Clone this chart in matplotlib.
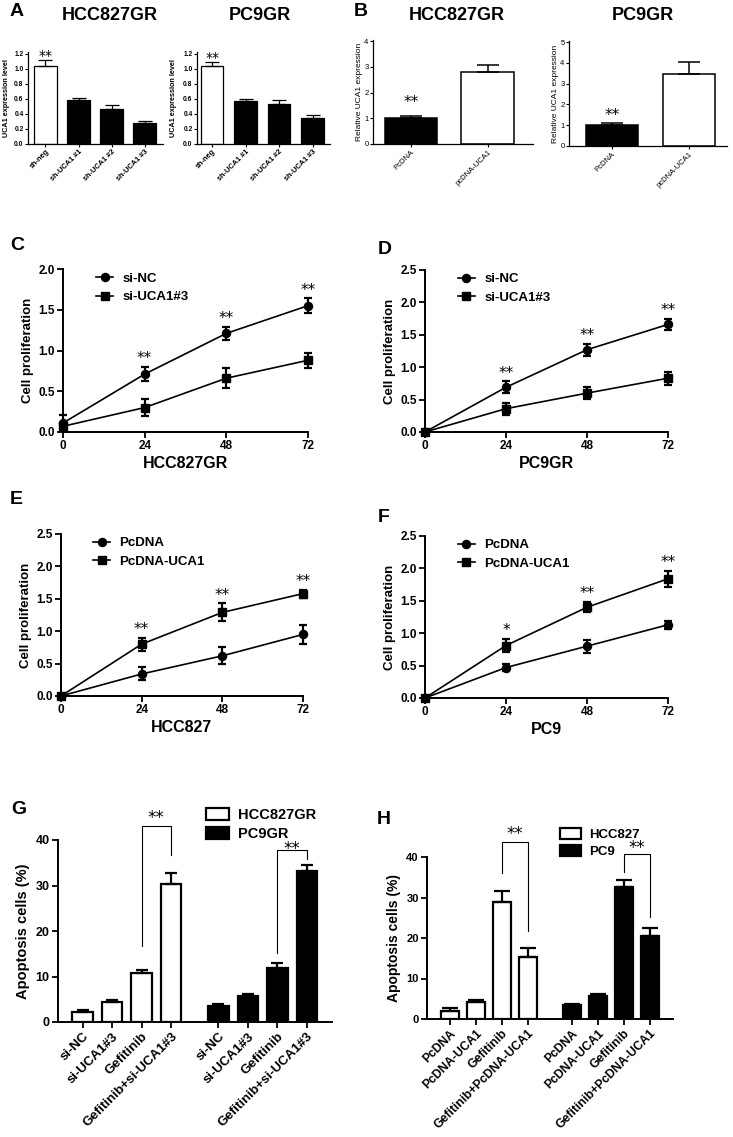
import numpy as np
import matplotlib
matplotlib.use('Agg')
import matplotlib.pyplot as plt
from matplotlib.patches import Patch
from matplotlib.lines import Line2D

plt.rcParams['font.family'] = ['Liberation Sans', 'DejaVu Sans']
plt.rcParams['font.weight'] = 'bold'
plt.rcParams['axes.labelweight'] = 'bold'
plt.rcParams['axes.linewidth'] = 1.4
plt.rcParams['xtick.major.width'] = 1.3
plt.rcParams['ytick.major.width'] = 1.3

# ---- data ----
a_labels = ['sh-neg', 'sh-UCA1 #1', 'sh-UCA1 #2', 'sh-UCA1 #3']
a_hcc = [1.03, 0.58, 0.47, 0.28]
a_hcc_err = [0.08, 0.03, 0.05, 0.03]
a_pc9 = [1.04, 0.57, 0.53, 0.34]
a_pc9_err = [0.045, 0.03, 0.06, 0.05]

b_labels = ['PcDNA', 'pcDNA-UCA1']
b_hcc = [1.0, 2.81]
b_hcc_err = [0.08, 0.27]
b_pc9 = [1.0, 3.48]
b_pc9_err = [0.12, 0.55]

hours = [0, 24, 48, 72]
c_nc = [0.11, 0.71, 1.21, 1.55]
c_nc_err = [0.10, 0.09, 0.08, 0.09]
c_si = [0.07, 0.30, 0.66, 0.88]
c_si_err = [0.03, 0.10, 0.12, 0.09]
d_nc = [0.0, 0.69, 1.27, 1.66]
d_nc_err = [0.02, 0.09, 0.09, 0.08]
d_si = [0.0, 0.36, 0.60, 0.83]
d_si_err = [0.02, 0.09, 0.09, 0.10]
e_pc = [0.0, 0.34, 0.62, 0.95]
e_pc_err = [0.02, 0.10, 0.13, 0.15]
e_uca = [0.0, 0.80, 1.29, 1.58]
e_uca_err = [0.02, 0.10, 0.14, 0.06]
f_pc = [0.0, 0.47, 0.80, 1.13]
f_pc_err = [0.02, 0.05, 0.10, 0.06]
f_uca = [0.0, 0.81, 1.40, 1.84]
f_uca_err = [0.02, 0.10, 0.08, 0.12]
cd_stars = ['', '**', '**', '**']
f_stars = ['', '*', '**', '**']

g_labels = ['si-NC', 'si-UCA1#3', 'Gefitinib', 'Gefitinib+si-UCA1#3']
g_hcc = [2.2, 4.5, 10.7, 30.4]
g_hcc_err = [0.5, 0.4, 0.8, 2.4]
g_pc9 = [3.5, 5.8, 11.8, 33.1]
g_pc9_err = [0.4, 0.4, 1.2, 1.4]
h_labels = ['PcDNA', 'PcDNA-UCA1', 'Gefitinib', 'Gefitinib+PcDNA-UCA1']
h_hcc = [2.0, 4.3, 28.9, 15.2]
h_hcc_err = [0.6, 0.45, 2.7, 2.3]
h_pc9 = [3.4, 5.7, 32.6, 20.6]
h_pc9_err = [0.3, 0.4, 1.8, 1.8]

W, H = 733, 1137
fig = plt.figure(figsize=(W / 100, H / 100), dpi=100)


def axes_px(x0, x1, ytop, ybot):
    ax = fig.add_axes([x0 / W, 1 - ybot / H, (x1 - x0) / W, (ybot - ytop) / H])
    ax.spines['top'].set_visible(False)
    ax.spines['right'].set_visible(False)
    return ax


def stars(ax, x, y, s, size=11, dy=6):
    if s:
        ax.annotate(s, (x, y), xytext=(0, dy), textcoords='offset points',
                    ha='center', va='center', fontsize=size, fontweight='normal',
                    family='DejaVu Sans', annotation_clip=False)


def small_bars(ax, vals, errs, colors, labels, ylim, yticks, ylabel, cap, weight, lw):
    x = np.arange(len(vals))
    ax.bar(x, vals, width=0.68, color=colors, edgecolor='black', linewidth=lw, zorder=2)
    ax.errorbar(x, vals, yerr=[np.zeros(len(vals)), errs], fmt='none', ecolor='black',
                elinewidth=lw, capsize=cap, capthick=lw, zorder=3)
    ax.set_ylim(*ylim)
    ax.set_yticks(yticks)
    ax.set_xticks(x)
    ax.set_xticklabels(labels, rotation=45, ha='right', rotation_mode='anchor')
    ax.set_ylabel(ylabel, fontsize=5.2 if weight == 'bold' else 6, fontweight=weight, labelpad=1)
    ax.tick_params(length=2, width=0.8, pad=1.2, labelsize=4.8 if weight == 'bold' else 5.5)
    for t in ax.get_xticklabels() + ax.get_yticklabels():
        t.set_fontweight(weight)
    for sp in ax.spines.values():
        sp.set_linewidth(0.9)


# ---- A ----
a_ticks = np.arange(0, 1.21, 0.2)
ax = axes_px(28, 163, 52, 144)
small_bars(ax, a_hcc, a_hcc_err, ['white', 'black', 'black', 'black'], a_labels,
           (0, 1.22), a_ticks, 'UCA1 expression level', 5, 'bold', 0.9)
ax.set_xlim(-0.53, 3.56)
ax.set_yticklabels(['%.1f' % v for v in a_ticks])
ax.yaxis.set_label_coords(-0.135, 0.5)
stars(ax, 0, a_hcc[0] + a_hcc_err[0], '**', size=10, dy=3)
for t in ax.get_xticklabels():
    t.set_fontsize(5.3)

ax = axes_px(197, 330, 52, 144)
small_bars(ax, a_pc9, a_pc9_err, ['white', 'black', 'black', 'black'], a_labels,
           (0, 1.22), a_ticks, 'UCA1 expression level', 5, 'bold', 0.9)
ax.set_xlim(-0.45, 3.52)
ax.set_yticklabels(['%.1f' % v for v in a_ticks])
ax.yaxis.set_label_coords(-0.147, 0.5)
stars(ax, 0, a_pc9[0] + a_pc9_err[0], '**', size=10, dy=3)
for t in ax.get_xticklabels():
    t.set_fontsize(5.3)

# ---- B ----
ax = axes_px(373, 533, 40, 144)
small_bars(ax, b_hcc, b_hcc_err, ['black', 'white'], b_labels,
           (0, 4.05), range(0, 5), 'Relative UCA1 expression', 8, 'normal', 1.1)
ax.set_xlim(-0.49, 1.59)
stars(ax, 0, b_hcc[0] + b_hcc_err[0], '**', size=11, dy=10)

ax = axes_px(569, 727, 41, 146)
small_bars(ax, b_pc9, b_pc9_err, ['black', 'white'], b_labels,
           (0, 5.05), range(0, 6), 'Relative UCA1 expression', 8, 'normal', 1.1)
ax.set_xlim(-0.56, 1.5)
stars(ax, 0, b_pc9[0] + b_pc9_err[0], '**', size=11, dy=5)

for x, s in [(110, 'HCC827GR'), (260, 'PC9GR'), (457, 'HCC827GR'), (643, 'PC9GR')]:
    fig.text(x / W, 1 - 15 / H, s, ha='center', va='center', fontsize=13, fontweight='bold')


# ---- C-F line charts ----
def growth(box, top_val, up, up_err, low, low_err, up_mk, names, st, xlabel, leg_pos):
    ax = axes_px(*box)
    lo_mk = 's' if up_mk == 'o' else 'o'
    for vals, errs, mk in [(up, up_err, up_mk), (low, low_err, lo_mk)]:
        ax.errorbar(hours, vals, yerr=errs, fmt='-' + mk, color='black', ms=5.8 if mk == 'o' else 5.3,
                    lw=1.2, elinewidth=1.6, capsize=3, capthick=1.6, clip_on=False, zorder=3)
    for x, v, e, s in zip(hours, up, up_err, st):
        stars(ax, x, v + e, s, size=11, dy=6)
    ax.set_xlim(0, 72)
    ax.set_ylim(0, top_val)
    ax.set_xticks(hours)
    ax.set_yticks(np.arange(0, top_val + 0.01, 0.5))
    ax.set_yticklabels(['%.1f' % v for v in np.arange(0, top_val + 0.01, 0.5)])
    ax.tick_params(length=4, labelsize=8.5, pad=2)
    ax.set_ylabel('Cell proliferation', fontsize=9.5, labelpad=3)
    ax.set_xlabel(xlabel, fontsize=11.5, labelpad=3)
    handles = [Line2D([], [], color='black', marker='o', ms=5.8, lw=1.2),
               Line2D([], [], color='black', marker='s', ms=5.3, lw=1.2)]
    ax.legend(handles, names, loc='center left', bbox_to_anchor=leg_pos, frameon=False,
              fontsize=9.5, handlelength=1.3, handletextpad=0.7, labelspacing=0.45,
              borderpad=0, borderaxespad=0)
    return ax


growth((63, 308, 269, 432), 2.0, c_nc, c_nc_err, c_si, c_si_err, 'o',
       ['si-NC', 'si-UCA1#3'], cd_stars, 'HCC827GR', (0.135, 0.883))
growth((425, 668, 270, 432), 2.5, d_nc, d_nc_err, d_si, d_si_err, 'o',
       ['si-NC', 'si-UCA1#3'], cd_stars, 'PC9GR', (0.135, 0.886))
growth((61, 303, 534, 696), 2.5, e_uca, e_uca_err, e_pc, e_pc_err, 's',
       ['PcDNA', 'PcDNA-UCA1'], cd_stars, 'HCC827', (0.132, 0.886))
growth((425, 668, 536, 698), 2.5, f_uca, f_uca_err, f_pc, f_pc_err, 's',
       ['PcDNA', 'PcDNA-UCA1'], f_stars, 'PC9', (0.135, 0.886))


# ---- G, H apoptosis ----
def apoptosis(box, labels, v1, e1, v2, e2, shift, names, cap, tick_fs, ylab_fs, leg_fs, leg_pos):
    ax = axes_px(*box)
    x1 = np.arange(4)
    x2 = x1 + shift
    ax.bar(x1, v1, width=0.7, color='white', edgecolor='black', linewidth=1.6, zorder=2)
    ax.bar(x2, v2, width=0.7, color='black', edgecolor='black', linewidth=1.6, zorder=2)
    for x, v, e in [(x1, v1, e1), (x2, v2, e2)]:
        ax.errorbar(x, v, yerr=[np.zeros(4), e], fmt='none', ecolor='black', elinewidth=1.6,
                    capsize=cap, capthick=1.6, zorder=3)
    ax.set_ylim(0, 40)
    ax.set_yticks(range(0, 41, 10))
    ax.set_xticks(np.concatenate([x1, x2]))
    ax.set_xticklabels(labels + labels, rotation=45, ha='right', rotation_mode='anchor',
                       fontsize=tick_fs)
    ax.tick_params(length=4, pad=2)
    ax.tick_params(axis='y', labelsize=9)
    ax.set_ylabel('Apoptosis cells (%)', fontsize=ylab_fs, labelpad=4)
    handles = [Patch(facecolor='white', edgecolor='black', linewidth=1.6),
               Patch(facecolor='black', edgecolor='black', linewidth=1.6)]
    ax.legend(handles, names, loc='center left', bbox_to_anchor=leg_pos, frameon=False,
              fontsize=leg_fs, handlelength=1.6, handleheight=0.9, handletextpad=0.6,
              labelspacing=0.3, borderpad=0, borderaxespad=0)
    return ax, x1, x2


def bracket(ax, xa, xb, ya, yb, ytop, ytext):
    ax.plot([xa, xa, xb, xb], [ya, ytop, ytop, yb], color='black', lw=0.8, clip_on=False)
    ax.text((xa + xb) / 2, ytext, '**', ha='center', va='center', fontsize=12,
            fontweight='normal', family='DejaVu Sans', clip_on=False)


ax, x1, x2 = apoptosis((58, 332, 840, 1022), g_labels, g_hcc, g_hcc_err, g_pc9, g_pc9_err, 4.6,
                       ['HCC827GR', 'PC9GR'], 4.5, 9.5, 10.5, 10.5, (0.54, 1.085))
ax.set_xlim(-0.83, 8.45)
bracket(ax, x1[2], x1[3], 16.6, 36.6, 43, 44.8)
bracket(ax, x2[2], x2[3], 15.1, 35.9, 37.9, 38.0)

ax, x1, x2 = apoptosis((427, 673, 857, 1019), h_labels, h_hcc, h_hcc_err, h_pc9, h_pc9_err, 4.7,
                       ['HCC827', 'PC9'], 5.5, 8.7, 10, 9.5, (0.54, 1.087))
ax.set_xlim(-0.87, 8.59)
ax.tick_params(axis='y', labelsize=8)
bracket(ax, x1[2], x1[3], 36.1, 21.8, 43.7, 45.8)
bracket(ax, x2[2], x2[3], 36.3, 25.2, 40.7, 42.2)

# panel letters
for x, y, s in [(17, 11, 'A'), (361, 11, 'B'), (17, 246, 'C'), (385, 250, 'D'),
                (16, 500, 'E'), (384, 518, 'F'), (19, 810, 'G'), (384, 820, 'H')]:
    fig.text(x / W, 1 - y / H, s, ha='center', va='center', fontsize=14, fontweight='bold')

fig.savefig('out.png', dpi=100)
